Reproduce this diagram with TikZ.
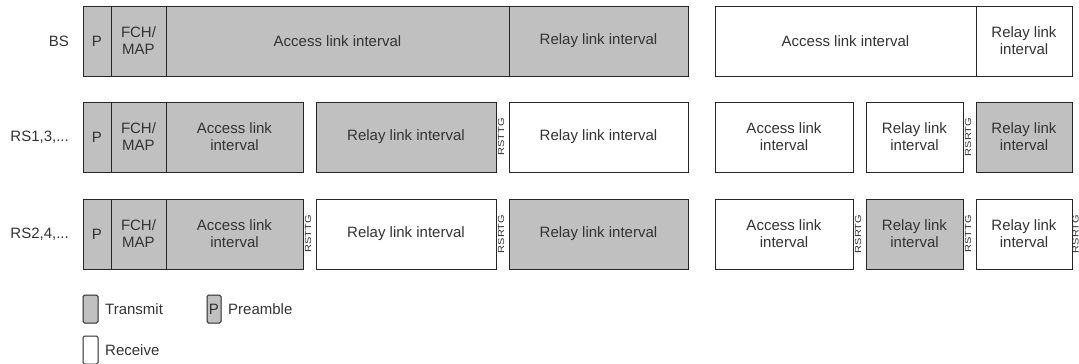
\documentclass[tikz,border=0pt]{standalone}
\usepackage{fontspec}
\setmainfont{Liberation Sans}
\usetikzlibrary{positioning}
\definecolor{txgray}{RGB}{192,192,192}
\definecolor{ink}{RGB}{51,51,51}

\begin{document}
\begin{tikzpicture}
		[x=1pt, y=-1pt,
		slot/.style={draw=black!85, line width=1pt, minimum height=70pt, inner sep=0pt, outer sep=0pt, align=center, text=ink, font=\fontsize{15}{17}\selectfont},
		tx/.style={slot, fill=txgray},
		rx/.style={slot, fill=white},
		guard/.style={rotate=90, yscale=0.8, inner sep=0pt, text=ink, font=\fontsize{11}{11}\selectfont},
		rowname/.style={anchor=east, inner sep=0pt, text=ink, font=\fontsize{15}{17}\selectfont},
		keybox/.style={draw=black!85, line width=1pt, rounded corners=1.5pt, minimum width=15pt, minimum height=28pt, inner sep=0pt, outer sep=0pt, anchor=north west, text=ink, font=\fontsize{15}{17}\selectfont},
		keytext/.style={inner sep=0pt, text=ink, font=\fontsize{15}{17}\selectfont}]
		\useasboundingbox (0,0) rectangle (1079,364);

		\node[rowname] (bs) at (69,41) {BS};
		\node[rowname] (rs13) at (69,137) {RS1,3,...};
		\node[rowname] (rs24) at (69,234) {RS2,4,...};

		\node[tx, minimum width=28pt, anchor=west] (p1) at (83,41) {P};
		\node[tx, minimum width=55pt, right=0pt of p1] (f1) {FCH/\\MAP};
		\node[tx, minimum width=343pt, right=0pt of f1] (a1) {Access link interval};
		\node[tx, minimum width=179pt, right=0pt of a1] (r1) {Relay link interval};
		\node[rx, minimum width=261pt, right=27pt of r1] (a1b) {Access link interval};
		\node[rx, minimum width=96pt, right=0pt of a1b] (r1b) {Relay link\\interval};

		\node[tx, minimum width=28pt, anchor=west] (p2) at (83,137) {P};
		\node[tx, minimum width=55pt, right=0pt of p2] (f2) {FCH/\\MAP};
		\node[tx, minimum width=137pt, right=0pt of f2] (a2) {Access link\\interval};
		\node[tx, minimum width=180pt, right=13pt of a2] (r2) {Relay link interval};
		\node[rx, minimum width=179pt, right=13pt of r2] (r2b) {Relay link interval};
		\node[rx, minimum width=138pt, right=27pt of r2b] (a2b) {Access link\\interval};
		\node[rx, minimum width=97pt, right=13pt of a2b] (r2c) {Relay link\\interval};
		\node[tx, minimum width=96pt, right=13pt of r2c] (r2d) {Relay link\\interval};

		\node[tx, minimum width=28pt, anchor=west] (p3) at (83,234) {P};
		\node[tx, minimum width=55pt, right=0pt of p3] (f3) {FCH/\\MAP};
		\node[tx, minimum width=137pt, right=0pt of f3] (a3) {Access link\\interval};
		\node[rx, minimum width=180pt, right=13pt of a3] (r3) {Relay link interval};
		\node[tx, minimum width=179pt, right=13pt of r3] (r3b) {Relay link interval};
		\node[rx, minimum width=138pt, right=27pt of r3b] (a3b) {Access link\\interval};
		\node[tx, minimum width=97pt, right=13pt of a3b] (r3c) {Relay link\\interval};
		\node[rx, minimum width=96pt, right=13pt of r3c] (r3d) {Relay link\\interval};

		\node[guard] (g21) at ([xshift=5pt]r2.east) {RSTTG};
		\node[guard] (g22) at ([xshift=5pt]r2c.east) {RSRTG};
		\node[guard] (g31) at ([xshift=5pt]a3.east) {RSTTG};
		\node[guard] (g32) at ([xshift=5pt]r3.east) {RSRTG};
		\node[guard] (g33) at ([xshift=5pt]a3b.east) {RSRTG};
		\node[guard] (g34) at ([xshift=5pt]r3c.east) {RSTTG};
		\node[guard] (g35) at ([xshift=3.6pt]r3d.east) {RSRTG};

		\node[keybox, fill=txgray] (ktx) at (83,295) {};
		\node[keytext, right=7pt of ktx] (ltx) {Transmit};
		\node[keybox, fill=txgray, minimum width=14pt] (kp) at (207,295) {P};
		\node[keytext, right=7pt of kp] (lp) {Preamble};
		\node[keybox, fill=white] (krx) at (83,336) {};
		\node[keytext, right=7pt of krx] (lrx) {Receive};
	\end{tikzpicture}
\end{document}
